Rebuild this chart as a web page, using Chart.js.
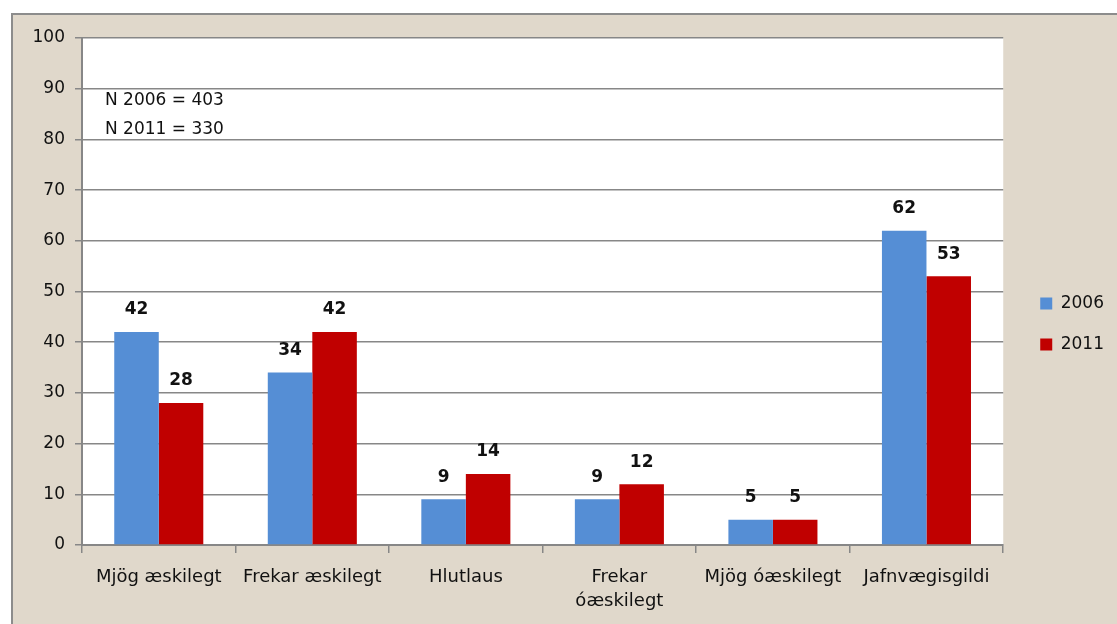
<!DOCTYPE html>
<html>
<head>
<meta charset="utf-8">
<script src="https://cdn.jsdelivr.net/npm/chart.js@4"></script>
<style>
  html, body { margin: 0; padding: 0; background: #fff; }
  #wrap { width: 1117px; height: 624px; }
</style>
</head>
<body>
<div id="wrap"><canvas id="chart"></canvas></div>
<script>
const categories = [
  "Mjög æskilegt",
  "Frekar æskilegt",
  "Hlutlaus",
  ["Frekar", "óæskilegt"],
  "Mjög óæskilegt",
  "Jafnvægisgildi",
];
const seriesNames = ["2006", "2011"];
const values2006 = [42, 34, 9, 9, 5, 62];
const values2011 = [28, 42, 14, 12, 5, 53];
const yMin = 0;
const yMax = 100;
const yStep = 10;
const notes = ["N 2006 = 403", "N 2011 = 330"];

const font = "'DejaVu Sans', sans-serif";
const gridGray = "#878787";

// beige card, white plot area
const frame = {
  id: "frame",
  beforeDraw(chart) {
    const { ctx, chartArea: a } = chart;
    ctx.save();
    ctx.fillStyle = "#fff";
    ctx.fillRect(0, 0, chart.width, chart.height);
    ctx.fillStyle = "#e0d8cb";
    ctx.fillRect(12, 14, chart.width - 12, chart.height - 14);
    ctx.strokeStyle = "#8c8c8c";
    ctx.lineWidth = 2;
    ctx.beginPath();
    ctx.moveTo(12, chart.height);
    ctx.lineTo(12, 14);
    ctx.lineTo(chart.width, 14);
    ctx.stroke();
    ctx.fillStyle = "#fff";
    ctx.fillRect(a.left, a.top, a.right - a.left, a.bottom - a.top);
    ctx.restore();
  },
};

// value labels over bars + the N notes
const labels = {
  id: "labels",
  afterDatasetsDraw(chart) {
    const { ctx, chartArea: a } = chart;
    ctx.save();
    ctx.fillStyle = "#111";
    ctx.textAlign = "center";
    ctx.textBaseline = "middle";
    ctx.font = "bold 17px " + font;
    chart.data.datasets.forEach((ds, i) => {
      chart.getDatasetMeta(i).data.forEach((bar, j) => {
        ctx.fillText(String(ds.data[j]), bar.x, bar.y - 22);
      });
    });
    ctx.textAlign = "left";
    ctx.font = "17px " + font;
    notes.forEach((t, i) => {
      ctx.fillText(t, a.left + 23, a.top + 63 + i * 29);
    });
    ctx.restore();
  },
};

// nudge legend away from the plot like the original
const legendShift = {
  id: "legendShift",
  afterLayout(chart) {
    const l = chart.legend;
    l.left += 13;
    l.right += 13;
    l.top -= 7;
    l.bottom -= 7;
  },
};

new Chart(document.getElementById("chart"), {
  type: "bar",
  data: {
    labels: categories,
    datasets: [
      {
        label: seriesNames[0],
        data: values2006,
        backgroundColor: "#558ed5",
        categoryPercentage: 0.58,
        barPercentage: 1.0,
      },
      {
        label: seriesNames[1],
        data: values2011,
        backgroundColor: "#c00000",
        categoryPercentage: 0.58,
        barPercentage: 1.0,
      },
    ],
  },
  options: {
    responsive: true,
    maintainAspectRatio: false,
    animation: false,
    layout: {
      padding: { top: 38, right: 16, bottom: 0, left: 0 },
    },
    plugins: {
      tooltip: { enabled: false },
      legend: {
        position: "right",
        labels: {
          boxWidth: 12,
          boxHeight: 12,
          padding: 24,
          color: "#111",
          font: { family: font, size: 17 },
        },
      },
    },
    scales: {
      x: {
        afterFit(scale) {
          scale.height = 79;
        },
        grid: {
          offset: true,
          drawOnChartArea: false,
          drawTicks: true,
          tickLength: 8,
          color: gridGray,
          lineWidth: 1.5,
        },
        border: { color: gridGray, width: 2 },
        ticks: {
          color: "#111",
          padding: 12,
          maxRotation: 0,
          autoSkip: false,
          font: { family: font, size: 18, lineHeight: 1.35 },
        },
      },
      y: {
        min: yMin,
        max: yMax,
        afterFit(scale) {
          scale.width = 82;
        },
        grid: {
          color: gridGray,
          lineWidth: 1.5,
          tickLength: 7,
        },
        border: { color: gridGray, width: 2 },
        ticks: {
          stepSize: yStep,
          color: "#111",
          padding: 10,
          font: { family: font, size: 17 },
        },
      },
    },
  },
  plugins: [frame, labels, legendShift],
});
</script>
</body>
</html>
